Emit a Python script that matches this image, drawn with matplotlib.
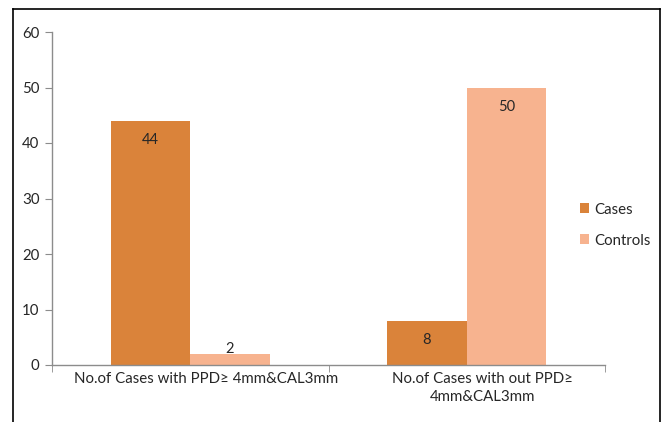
import matplotlib
matplotlib.use("Agg")
import matplotlib.pyplot as plt
from matplotlib.lines import Line2D
from matplotlib.transforms import ScaledTranslation
import numpy as np

categories = ["No.of Cases with PPD\u2265 4mm&CAL3mm", "No.of Cases with out PPD\u2265\n4mm&CAL3mm"]
series_names = ["Cases", "Controls"]
cases = [44, 8]
controls = [2, 50]
yticks = [0, 10, 20, 30, 40, 50, 60]

plt.rcParams['font.family'] = ['Lato', 'DejaVu Sans']
colors = ["#DA833A", "#F7B38F"]
text_color = "#262626"
axis_color = "#8C8C8C"

fig = plt.figure(figsize=(6.62, 4.22), dpi=100)
ax = fig.add_axes([52/662, 1-365/422, (605-52)/662, (365-32)/422])

x = np.arange(len(categories))
w = 0.288
for i, (vals, name) in enumerate(zip([cases, controls], series_names)):
    bars = ax.bar(x + (i - 0.5) * w, vals, width=w, color=colors[i], label=name, linewidth=0)
    for b, v in zip(bars, vals):
        cx = b.get_x() + b.get_width() / 2
        if v >= 5:
            ax.annotate(str(v), (cx, v), xytext=(0, -14), textcoords='offset points',
                        ha='center', va='center', fontsize=10.5, color=text_color)
        else:
            ax.annotate(str(v), (cx, v), xytext=(0, 3.5), textcoords='offset points',
                        ha='center', va='center', fontsize=10.5, color=text_color)

ax.set_xlim(-0.5, 1.5)
ax.set_ylim(0, 60)
ax.set_yticks(yticks)
ax.set_xticks(x)
ax.set_xticklabels(categories, fontsize=10.8, color=text_color, linespacing=1.35)
ax.set_xticks([-0.5, 0.5, 1.5], minor=True)
ax.tick_params(axis='x', which='major', length=0, pad=5)
ax.tick_params(axis='x', which='minor', length=5, color=axis_color, direction='out')
ax.tick_params(axis='y', length=5, color=axis_color, direction='out', labelsize=10.8, labelcolor=text_color, pad=4)
shift = ScaledTranslation(16/100, 0, fig.dpi_scale_trans)
for lab in ax.get_xticklabels():
    lab.set_transform(lab.get_transform() + shift)
for s in ['top', 'right']:
    ax.spines[s].set_visible(False)
for s in ['left', 'bottom']:
    ax.spines[s].set_color(axis_color)
    ax.spines[s].set_linewidth(1.0)

leg = fig.legend(loc='upper left', bbox_to_anchor=(572/662, 1-195/422), frameon=False,
                 fontsize=10.8, handlelength=0.65, handleheight=0.65, handletextpad=0.35,
                 labelspacing=1.15, labelcolor=text_color, borderpad=0)

# outer chart border
fx0, fx1, fy1 = 12.5/662, 660/662, 1-8.5/422
fig.add_artist(Line2D([fx0, fx0], [0, fy1], transform=fig.transFigure, color="#000000", lw=1.2))
fig.add_artist(Line2D([fx0, fx1], [fy1, fy1], transform=fig.transFigure, color="#000000", lw=1.2))
fig.add_artist(Line2D([fx1, fx1], [0, fy1], transform=fig.transFigure, color="#000000", lw=1.2))

fig.savefig("out.png", dpi=100)
